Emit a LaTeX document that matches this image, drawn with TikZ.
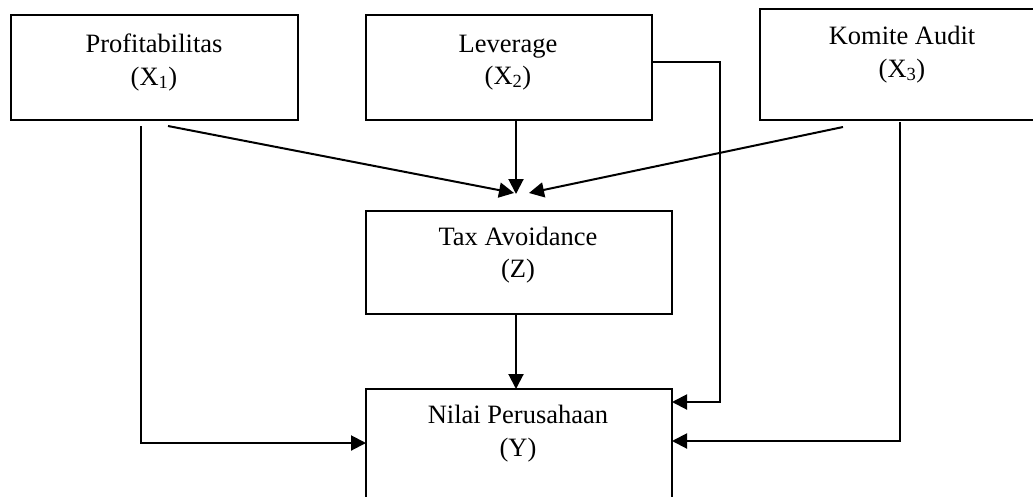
\documentclass[tikz,border=0pt]{standalone}
\usepackage{fontspec}
\setmainfont{Liberation Serif}
\usetikzlibrary{arrows.meta,calc}
\begin{document}
\begin{tikzpicture}[x=1pt,y=-1pt,
  box/.style={draw, line width=2pt, rectangle, inner sep=0pt, outer sep=0pt},
  lbl/.style={inner sep=0pt, anchor=base, font=\fontsize{26.5}{32}\selectfont},
  con/.style={line width=2pt},
  arr/.style={line width=2pt, -{Triangle[length=15pt,width=15pt]}}]
\useasboundingbox (0,0) rectangle (1033,496);
\clip (0,0) rectangle (1033,496);
% boxes
\node[box, minimum width=287pt, minimum height=105pt] (X1) at (154.5,67.5) {};
\node[box, minimum width=286pt, minimum height=105pt] (X2) at (509,67.5) {};
\node[box, minimum width=284pt, minimum height=111pt] (X3) at (902,64.5) {};
\node[box, minimum width=306pt, minimum height=103pt] (Z) at (519,262.5) {};
\node[box, minimum width=306pt, minimum height=141pt] (Y) at (519,459.5) {};
% texts
\node[lbl] (t1a) at (154,52) {Profitabilitas};
\node[lbl] (t1b) at (154,85) {(X\textsubscript{1})};
\node[lbl] (t2a) at (508,52) {Leverage};
\node[lbl] (t2b) at (508,84) {(X\textsubscript{2})};
\node[lbl] (t3a) at (902,44) {Komite Audit};
\node[lbl] (t3b) at (902,77) {(X\textsubscript{3})};
\node[lbl] (tza) at (518,245) {Tax Avoidance};
\node[lbl] (tzb) at (518,277) {(Z)};
\node[lbl] (tya) at (518,423) {Nilai Perusahaan};
\node[lbl] (tyb) at (518,456) {(Y)};
% connector points
\coordinate (a1s) at (168,126);
\coordinate (a1e) at (514,193);
\coordinate (a2s) at (516,120);
\coordinate (a2e) at (516,194);
\coordinate (a3s) at (843,127);
\coordinate (a3e) at (529,193);
\coordinate (b1s) at (141,126);
\coordinate (b1c) at (141,443);
\coordinate (b2s) at (652,62);
\coordinate (b2c) at (720,62);
\coordinate (b2d) at (720,402);
\coordinate (b3s) at (900,122);
\coordinate (b3c) at (900,441);
\coordinate (zs) at (516,314);
% connectors to Z
\draw[arr] (a1s) -- (a1e);
\draw[arr] (a2s) -- (a2e);
\draw[arr] (a3s) -- (a3e);
% connectors to Y
\draw[arr] (zs) -- (zs |- Y.north);
\draw[arr] (b1s) -- (b1c) -- (b1c -| Y.west);
\draw[arr] (b2s) -- (b2c) -- (b2d) -- (b2d -| Y.east);
\draw[arr] (b3s) -- (b3c) -- (b3c -| Y.east);
\end{tikzpicture}
\end{document}
